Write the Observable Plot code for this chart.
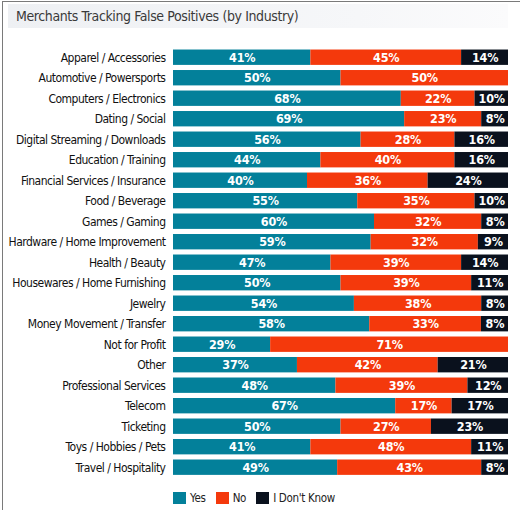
<!DOCTYPE html>
<html>
<head>
<meta charset="utf-8">
<script src="https://cdn.jsdelivr.net/npm/d3@7"></script>
<script src="https://cdn.jsdelivr.net/npm/@observablehq/plot@0.6"></script>
<style>
  html, body { margin: 0; padding: 0; background: #fff; }
  body { width: 520px; height: 510px; position: relative; overflow: hidden;
         font-family: "Liberation Sans Narrow", "DejaVu Sans Condensed", "Roboto", sans-serif; }
  #frame { position: absolute; left: 2px; top: 1px; width: 518px; height: 509px;
           border-left: 1px solid #7a7a7a; border-top: 1px solid #7a7a7a; box-sizing: border-box; }
  #title { position: absolute; left: 8px; top: 4px; width: 500px; height: 24px;
           background: linear-gradient(to right, #eef0f3, #f6f7f9 70%, #fbfbfc);
           font-size: 14px; letter-spacing: -0.4px; color: #3a3a3a; line-height: 24px; padding-left: 8px; box-sizing: border-box; }
  #chart { position: absolute; left: 0; top: 30px; }
  #chart g[aria-label="y-axis tick label"] { letter-spacing: -0.5px; }
  #chart g[aria-label="text"] { letter-spacing: -0.2px; }
  #legend { position: absolute; left: 173px; top: 491px; display: flex; align-items: center;
            font-size: 11.5px; letter-spacing: -0.3px; color: #222; }
  #legend .sw { width: 13px; height: 12px; margin-right: 4px; }
  #legend .item { display: flex; align-items: center; margin-right: 10px; }
</style>
</head>
<body>
<div id="frame"></div>
<div id="title">Merchants Tracking False Positives (by Industry)</div>
<div id="chart"></div>
<div id="legend"></div>
<script>
const industries = [
  "Apparel / Accessories",
  "Automotive / Powersports",
  "Computers / Electronics",
  "Dating / Social",
  "Digital Streaming / Downloads",
  "Education / Training",
  "Financial Services / Insurance",
  "Food / Beverage",
  "Games / Gaming",
  "Hardware / Home Improvement",
  "Health / Beauty",
  "Housewares / Home Furnishing",
  "Jewelry",
  "Money Movement / Transfer",
  "Not for Profit",
  "Other",
  "Professional Services",
  "Telecom",
  "Ticketing",
  "Toys / Hobbies / Pets",
  "Travel / Hospitality"
];
const yesValues  = [41, 50, 68, 69, 56, 44, 40, 55, 60, 59, 47, 50, 54, 58, 29, 37, 48, 67, 50, 41, 49];
const noValues   = [45, 50, 22, 23, 28, 40, 36, 35, 32, 32, 39, 39, 38, 33, 71, 42, 39, 17, 27, 48, 43];
const dkValues   = [14, 0, 10, 8, 16, 16, 24, 10, 8, 9, 14, 11, 8, 8, 0, 21, 12, 17, 23, 11, 8];
const answers = ["Yes", "No", "I Don't Know"];
const colors = ["#03809a", "#f4390c", "#0a111d"];

const data = [];
industries.forEach((ind, i) => {
  [yesValues[i], noValues[i], dkValues[i]].forEach((v, j) => {
    data.push({industry: ind, answer: answers[j], value: v});
  });
});
const shown = data.filter(d => d.value > 0);

const stackOpts = {x: "value", y: "industry", z: "answer", order: answers, offset: "normalize"};

const chart = Plot.plot({
  width: 520,
  height: 450,
  marginLeft: 173,
  marginRight: 12,
  marginTop: 14.4,
  marginBottom: 0,
  style: {fontFamily: '"Liberation Sans Narrow", "DejaVu Sans Condensed", Roboto, sans-serif', background: "transparent"},
  x: {axis: null, domain: [0, 1]},
  y: {domain: industries, padding: 0.25, round: false, label: null, axis: null},
  color: {domain: answers, range: colors},
  marks: [
    Plot.barX(data, Plot.stackX({...stackOpts, fill: "answer"})),
    Plot.text(shown, Plot.stackX({...stackOpts, text: d => d.value + "%",
      fontSize: 12.5, fontWeight: "bold", fill: "white"})),
    Plot.axisY({tickSize: 0, tickPadding: 8, fontSize: 12, label: null, color: "#111"})
  ]
});
document.getElementById("chart").appendChild(chart);

const legend = document.getElementById("legend");
answers.forEach((a, i) => {
  const item = document.createElement("div");
  item.className = "item";
  const sw = document.createElement("div");
  sw.className = "sw";
  sw.style.background = colors[i];
  const lab = document.createElement("span");
  lab.textContent = a;
  item.appendChild(sw);
  item.appendChild(lab);
  legend.appendChild(item);
});
</script>
</body>
</html>
